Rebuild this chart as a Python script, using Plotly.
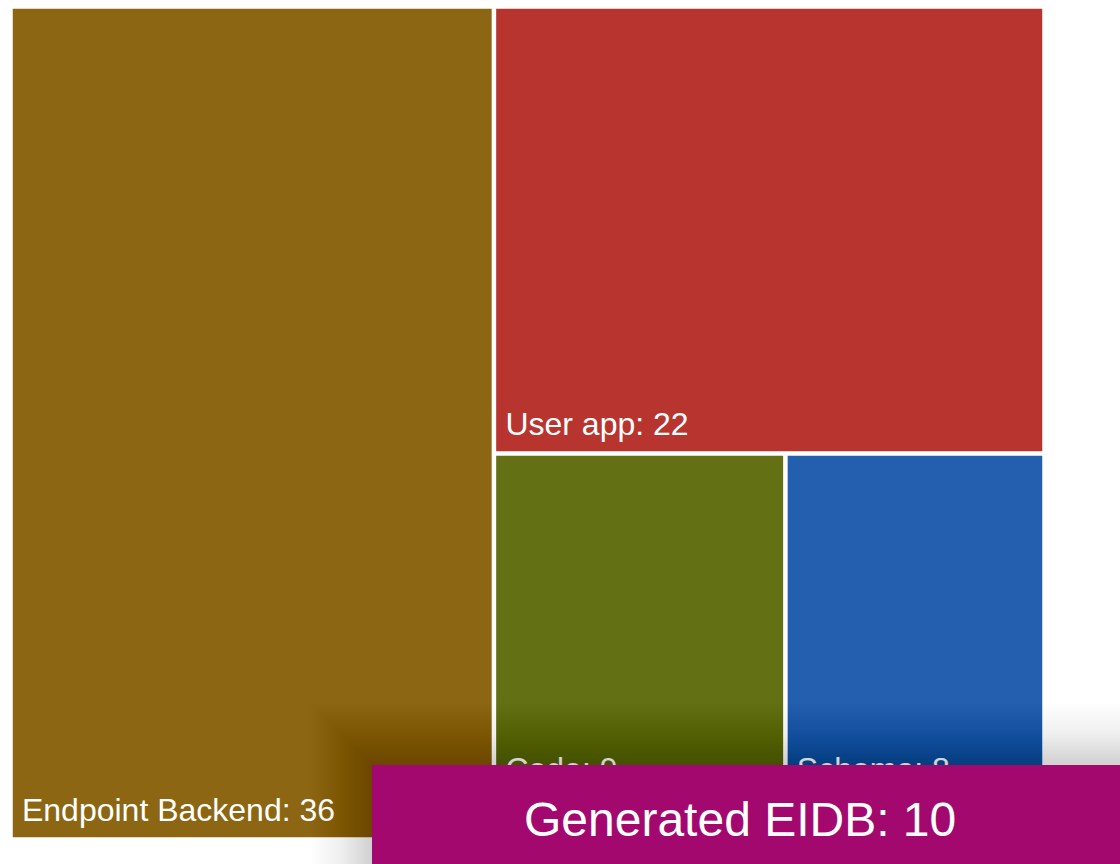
import math
import plotly.graph_objects as go

# Treemap hierarchy: leaves carry the values, groups only arrange them
ids = ["endpoint", "right", "user", "row", "code", "schema", "other"]
labels = ["Endpoint Backend", "", "User app", "", "Code", "Schema", "Other"]
parents = ["", "", "right", "right", "row", "row", "right"]
values = [36, 0, 22, 0, 9, 8, 2]
colors = ["#8C6612", "#FFFFFF", "#B8342F", "#FFFFFF", "#637014", "#235EAF", "#7A7A7A"]
is_group = [False, True, False, True, False, False, False]

# Highlighted item shown in the callout box
callout_label = "Generated EIDB"
callout_value = 10
callout_color = "#A3086F"

W, H = 1120, 864
FONT = "Liberation Sans, Arial, sans-serif"


def px_x(x):
    return x / W


def px_y(y):
    return 1 - y / H


# Leaf labels: a small leading gap and a tall trailing spacer lift the text off the tile edge
leaf_template = (
    "<span style='font-size:25px'>\u00a0</span>%{label}: %{value}"
    "<span style='font-size:66px'>\u00a0</span>"
)
templates = ["" if g else leaf_template for g in is_group]

fig = go.Figure(
    go.Treemap(
        ids=ids,
        labels=labels,
        parents=parents,
        values=values,
        branchvalues="remainder",
        sort=False,
        marker=dict(
            colors=colors,
            line=dict(color="white", width=1.5),
            pad=dict(t=0, l=0, r=0, b=0),
        ),
        textinfo="none",
        texttemplate=templates,
        textposition="bottom left",
        textfont=dict(family=FONT, size=32, color="white"),
        pathbar=dict(visible=False),
        tiling=dict(packing="slice-dice"),
        hoverinfo="skip",
        domain=dict(x=[px_x(12), px_x(1043)], y=[px_y(838), px_y(8)]),
    )
)

# Soft, blurred drop shadow behind the callout box (stacked translucent rings)
box = (372, 765, 1130, 874)
shadow_peak = 0.2
sigma = 38.0
step = 2
reach = 130


def shadow_alpha(d):
    return shadow_peak * math.erfc(d / (sigma * math.sqrt(2)))


shapes = []
for g in range(reach, 0, -step):
    a = shadow_alpha(g) - shadow_alpha(g + step)
    if a <= 0:
        continue
    shapes.append(
        dict(
            type="rect",
            xref="paper",
            yref="paper",
            x0=px_x(box[0] - g),
            x1=px_x(box[2] + g),
            y0=px_y(box[3] + g),
            y1=px_y(box[1] - g),
            fillcolor=f"rgba(0,0,0,{a:.5f})",
            line=dict(width=0),
            layer="above",
        )
    )
shapes.append(
    dict(
        type="rect",
        xref="paper",
        yref="paper",
        x0=px_x(box[0]),
        x1=px_x(box[2]),
        y0=px_y(box[3]),
        y1=px_y(box[1]),
        fillcolor=callout_color,
        line=dict(width=0),
        layer="above",
    )
)

fig.update_layout(
    width=W,
    height=H,
    margin=dict(l=0, r=0, t=0, b=0),
    paper_bgcolor="white",
    plot_bgcolor="white",
    shapes=shapes,
    annotations=[
        dict(
            text=f"{callout_label}: {callout_value}",
            xref="paper",
            yref="paper",
            x=px_x(740),
            y=px_y(819),
            xanchor="center",
            yanchor="middle",
            showarrow=False,
            font=dict(family=FONT, size=48, color="white"),
        )
    ],
)

fig.write_html("out.html")
